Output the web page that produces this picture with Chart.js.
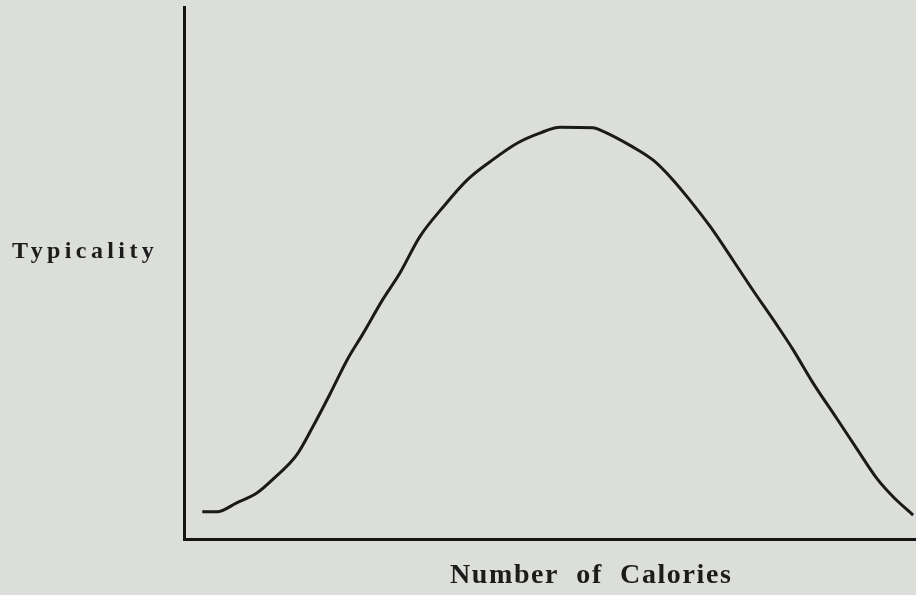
<!DOCTYPE html>
<html>
<head>
<meta charset="utf-8">
<script src="https://cdn.jsdelivr.net/npm/chart.js@4/dist/chart.umd.min.js"></script>
<style>
  html, body { margin: 0; padding: 0; background: #dcdeda; }
  canvas { display: block; }
</style>
</head>
<body>
<canvas id="c" width="916" height="595"></canvas>
<script>
// Number of calories (relative scale 0-100) and typicality (relative 0-100)
const calories = [2.5, 4.5, 7.2, 10.0, 12.2, 15.4, 17.6, 20.0, 22.3, 24.5, 27.1, 29.5, 32.2, 35.4, 38.7, 41.8, 45.5, 48.6, 51.4, 55.9, 56.8, 61.3, 64.1, 66.8, 69.1, 71.9, 75.0, 77.7, 81.0, 83.2, 85.9, 89.2, 91.9, 94.7, 96.9, 99.6];
const typicality = [5.1, 5.1, 6.8, 8.7, 11.3, 15.8, 21.1, 27.4, 33.7, 38.7, 44.9, 50.0, 56.8, 62.4, 67.5, 70.9, 74.4, 76.3, 77.4, 77.3, 76.9, 73.7, 71.2, 67.5, 63.7, 58.7, 52.4, 46.8, 40.2, 35.6, 29.4, 22.6, 17.0, 11.3, 7.9, 4.5];
const xTitle = "Number  of  Calories";
const yTitle = "Typicality";

const points = calories.map((x, i) => ({ x: x, y: typicality[i] }));

const titlePlugin = {
  id: 'titles',
  afterDraw(chart) {
    const ctx = chart.ctx;
    const a = chart.chartArea;
    ctx.save();
    ctx.fillStyle = '#1c1c1c';
    ctx.textBaseline = 'alphabetic';
    ctx.textAlign = 'left';
    // y title (horizontal, left of axis)
    ctx.font = 'bold 24px "Liberation Serif", "Times New Roman", serif';
    ctx.letterSpacing = '4.4px';
    ctx.fillText(yTitle, 12, a.top + (a.bottom - a.top) * 0.472);
    // x title
    ctx.font = 'bold 28px "Liberation Serif", "Times New Roman", serif';
    ctx.letterSpacing = '1.6px';
    ctx.fillText(xTitle, 450, a.bottom + 44);
    ctx.restore();
  }
};

new Chart(document.getElementById('c'), {
  type: 'line',
  data: {
    datasets: [{
      data: points,
      borderColor: '#1a1a1a',
      borderWidth: 3,
      pointRadius: 0,
      cubicInterpolationMode: 'monotone',
      fill: false,
      clip: false
    }]
  },
  options: {
    responsive: false,
    devicePixelRatio: 1,
    animation: false,
    layout: { padding: { left: 176, top: 7, right: 0, bottom: 48 } },
    plugins: { legend: { display: false }, tooltip: { enabled: false } },
    scales: {
      x: {
        type: 'linear', min: 0, max: 100,
        grid: { display: false },
        ticks: { display: false },
        border: { display: true, color: '#151515', width: 3 }
      },
      y: {
        type: 'linear', min: 0, max: 100,
        grid: { display: false },
        ticks: { display: false },
        border: { display: true, color: '#151515', width: 3 }
      }
    }
  },
  plugins: [titlePlugin]
});
</script>
</body>
</html>
